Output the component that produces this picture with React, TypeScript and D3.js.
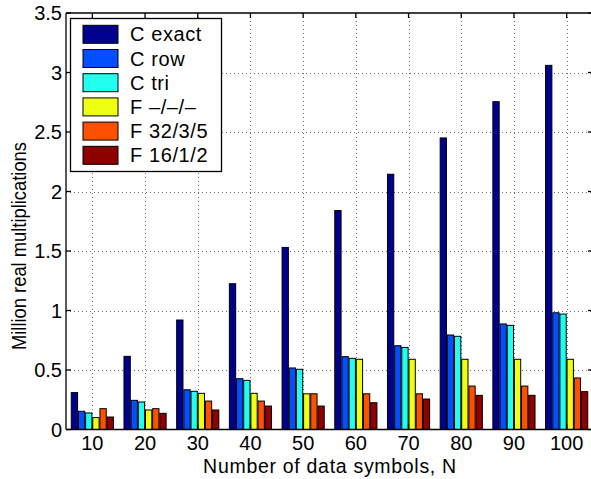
import React from "react";
import * as d3 from "d3";

const symbols = [10, 20, 30, 40, 50, 60, 70, 80, 90, 100];
const seriesNames = ["C exact", "C row", "C tri", "F \u2013/\u2013/\u2013", "F 32/3/5", "F 16/1/2"];
const colors = ["#00008F", "#0050FF", "#22FFEE", "#EEFF14", "#FF5000", "#8F0000"];

const cExact = [0.31, 0.615, 0.92, 1.225, 1.53, 1.84, 2.145, 2.45, 2.755, 3.06];
const cRow = [0.153, 0.245, 0.334, 0.427, 0.517, 0.612, 0.704, 0.794, 0.887, 0.981];
const cTri = [0.139, 0.231, 0.321, 0.413, 0.506, 0.598, 0.69, 0.783, 0.875, 0.97];
const fNone = [0.1, 0.164, 0.304, 0.304, 0.3, 0.59, 0.59, 0.59, 0.59, 0.59];
const f3235 = [0.175, 0.175, 0.239, 0.239, 0.3, 0.3, 0.3, 0.365, 0.365, 0.433];
const f1612 = [0.105, 0.136, 0.164, 0.197, 0.197, 0.225, 0.256, 0.287, 0.287, 0.318];

const series = [cExact, cRow, cTri, fNone, f3235, f1612];
const yTicks = [0, 0.5, 1, 1.5, 2, 2.5, 3, 3.5];

const W = 591;
const H = 479;
const left = 66;
const right = 593;
const top = 13;
const bottom = 429.5;
const font = "'Liberation Sans', Arial, Helvetica, sans-serif";

export default function App() {
  const x = d3.scaleLinear().domain([5, 105]).range([left, right]);
  const y = d3.scaleLinear().domain([0, 3.5]).range([bottom, top]);
  const groupW = (x(10) - x(0)) * 0.8;
  const inner = d3
    .scaleBand<number>()
    .domain(d3.range(series.length))
    .range([-groupW / 2, groupW / 2])
    .paddingInner(0.12);
  const tick = 5;

  return (
    <svg width={W} height={H} style={{ position: "absolute", left: 0, top: 0, background: "#fff" }} fontFamily={font}>
      <rect x={0} y={0} width={W} height={H} fill="#fff" />
      {/* grid */}
      <g stroke="#333" strokeWidth={1} strokeDasharray="1,3" opacity={0.7}>
        {symbols.map((s) => (
          <line key={"gx" + s} x1={Math.round(x(s)) + 0.5} x2={Math.round(x(s)) + 0.5} y1={top} y2={bottom} />
        ))}
        {yTicks.slice(1, -1).map((t) => (
          <line key={"gy" + t} x1={left} x2={right} y1={Math.round(y(t)) + 0.5} y2={Math.round(y(t)) + 0.5} />
        ))}
      </g>
      {/* bars */}
      {series.map((vals, i) => (
        <g key={"s" + i} fill={colors[i]} stroke="#000" strokeWidth={1}>
          {vals.map((v, j) => (
            <rect
              key={j}
              x={x(symbols[j]) + (inner(i) as number)}
              y={y(v)}
              width={inner.bandwidth()}
              height={bottom - y(v)}
            />
          ))}
        </g>
      ))}
      {/* axes box */}
      <g stroke="#000" strokeWidth={1.3} fill="none">
        <line x1={left} x2={right} y1={bottom} y2={bottom} />
        <line x1={left} x2={right} y1={top} y2={top} />
        <line x1={left} x2={left} y1={top} y2={bottom} />
        <line x1={right} x2={right} y1={top} y2={bottom} />
        {symbols.map((s) => (
          <g key={"tx" + s}>
            <line x1={x(s)} x2={x(s)} y1={bottom} y2={bottom - tick} />
            <line x1={x(s)} x2={x(s)} y1={top} y2={top + tick} />
          </g>
        ))}
        {yTicks.map((t) => (
          <g key={"ty" + t}>
            <line x1={left} x2={left + tick} y1={y(t)} y2={y(t)} />
            <line x1={right} x2={right - tick} y1={y(t)} y2={y(t)} />
          </g>
        ))}
      </g>
      {/* tick labels */}
      <g fontSize={20} fill="#000">
        {symbols.map((s) => (
          <text key={"lx" + s} x={x(s)} y={450} textAnchor="middle">
            {s}
          </text>
        ))}
        {yTicks.map((t) => (
          <text key={"ly" + t} x={left - 4} y={y(t) + 7} textAnchor="end">
            {t}
          </text>
        ))}
      </g>
      <text x={330} y={473} fontSize={19.5} textAnchor="middle" letterSpacing={0.7}>
        Number of data symbols, N
      </text>
      <text
        transform={`translate(26,${246}) rotate(-90)`}
        fontSize={20}
        textAnchor="middle"
        textLength={208}
        lengthAdjust="spacingAndGlyphs"
      >
        Million real multiplications
      </text>
      {/* legend */}
      <g>
        <rect x={70.5} y={18.5} width={151} height={153} fill="#fff" stroke="#000" strokeWidth={1.3} />
        {seriesNames.map((name, i) => {
          const cy = 34.3 + i * 24.2;
          return (
            <g key={name}>
              <rect x={83} y={cy - 9} width={35} height={18} fill={colors[i]} stroke="#000" strokeWidth={1} />
              <text x={130} y={cy + 7} fontSize={20} letterSpacing={0.6}>
                {name}
              </text>
            </g>
          );
        })}
      </g>
    </svg>
  );
}
